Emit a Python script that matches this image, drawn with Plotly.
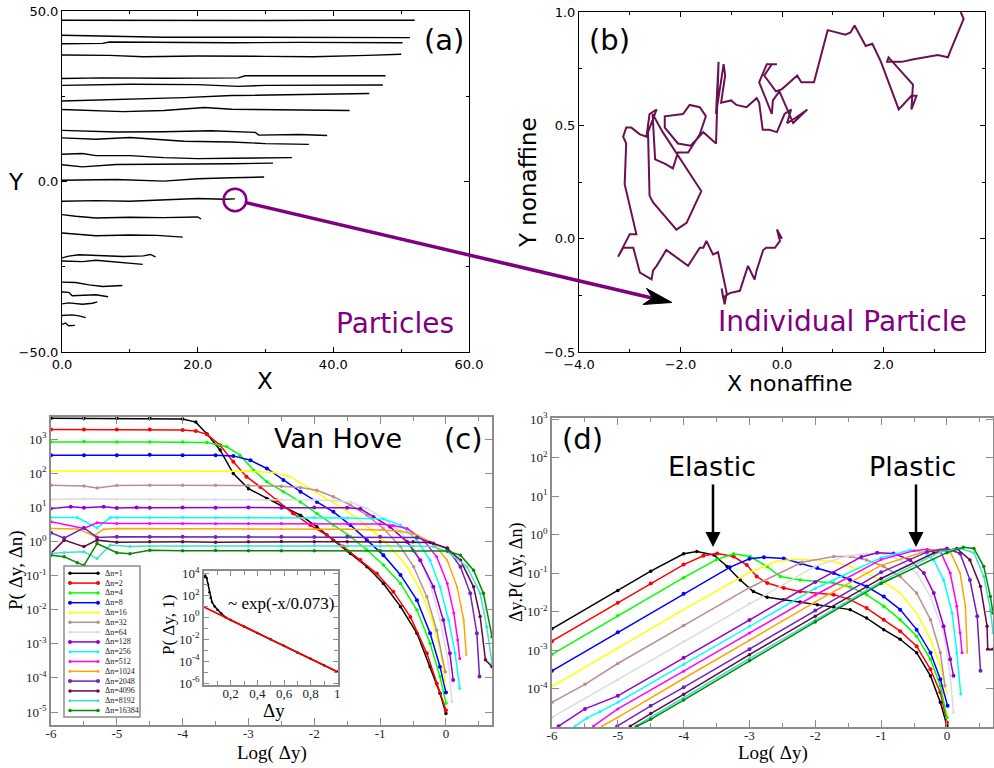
import plotly.graph_objects as go

W, H = 994, 768
def PX(x): return x / W
def PY(y): return 1 - y / H

# ---------------- Panel (a): particle tracks ----------------
track_x = [
    [0, 10, 20, 30, 40, 52.0],
    [0, 8, 15, 25, 35, 45, 51.3],
    [0, 6, 7, 15, 25, 35, 45, 50.2],
    [0, 7, 12, 20, 30, 37, 45, 50.0],
    [0, 6, 15, 26, 27, 35, 47.7],
    [0, 10, 20, 26, 30, 40, 47.3],
    [0, 8, 15, 18, 25, 35, 45.3],
    [0, 5, 9, 15, 21, 25, 35, 42.4],
    [0, 5, 8, 15, 22, 28.5, 29, 35, 39.1],
    [0, 5, 10, 15, 18, 25, 30, 36.4],
    [0, 3, 5, 10, 15, 20, 25, 33.9],
    [0, 3, 8, 15, 20, 25, 31.1],
    [0, 3, 8, 15, 20, 25, 29.8],
    [0, 5, 10, 15, 20, 24, 25.5],
    [0, 2, 5, 10, 15, 20, 20.5],
    [0, 3, 5, 10, 14, 17.8],
    [0, 1, 2.5, 6, 9, 12, 13, 13.8],
    [0, 3, 5, 8, 11.9],
    [0, 2, 4, 6, 8.9],
    [0, 1, 1.5, 3, 5, 6.8],
    [0, 1, 3, 4.5, 5.2],
    [0, 1.5, 2.5, 3.5],
    [0, 0.5, 1.0, 1.9],
]
track_y = [
    [47.3, 47.2, 47.3, 47.2, 47.3, 47.3],
    [42.9, 42.6, 42.3, 42.3, 42.2, 42.3, 42.2],
    [40.4, 40.5, 40.9, 40.8, 40.7, 40.8, 40.8, 40.7],
    [37.1, 37.0, 36.6, 36.8, 36.7, 36.6, 37.0, 37.3],
    [30.2, 30.4, 30.3, 30.4, 31.0, 31.0, 31.0],
    [28.2, 28.5, 28.4, 27.9, 28.2, 28.3, 28.3],
    [23.6, 24.0, 24.3, 24.6, 25.2, 25.6, 25.8],
    [21.1, 20.8, 20.5, 20.8, 21.7, 21.2, 21.0, 20.8],
    [15.0, 14.8, 14.5, 14.6, 14.9, 14.4, 13.6, 13.8, 13.5],
    [12.8, 12.4, 12.9, 12.2, 11.8, 11.6, 11.1, 10.9],
    [8.0, 8.2, 7.6, 7.6, 7.0, 6.7, 6.8, 7.0],
    [4.9, 4.3, 5.0, 5.1, 5.0, 5.2, 5.4],
    [0.35, 0.5, 0.6, 0.1, 0.8, 1.1, 1.3],
    [-5.8, -5.6, -5.8, -5.3, -5.0, -5.2, -5.1],
    [-9.7, -10.2, -10.7, -10.5, -10.6, -10.4, -11.0],
    [-15.1, -15.5, -15.9, -15.7, -15.8, -16.3],
    [-22.4, -21.9, -21.5, -21.8, -22.0, -21.8, -21.4, -22.1],
    [-23.3, -23.5, -23.1, -23.6, -24.3],
    [-29.5, -29.6, -30.3, -30.8, -30.5],
    [-32.4, -32.5, -33.5, -33.4, -33.2, -33.8],
    [-35.9, -35.6, -36.0, -35.7, -35.3],
    [-39.3, -39.1, -39.4, -39.9],
    [-41.9, -41.5, -42.3, -42.2],
]
highlight_x, highlight_y = 25.5, -5.4

# ---------------- Panel (b): single particle path ----------------
traj_xy = [
    (0.0, 0.0), (-0.1, 0.04), (-0.04, -0.01), (-0.14, -0.04), (-0.31, -0.04), (-0.37, -0.05),
    (-0.50, -0.14), (-0.54, -0.18), (-0.67, -0.12), (-0.83, -0.23), (-1.03, -0.24), (-1.16, -0.26),
    (-1.19, -0.22), (-1.13, -0.29), (-1.09, -0.24), (-1.26, -0.06), (-1.36, -0.07), (-1.49, -0.01),
    (-1.55, -0.04), (-1.62, -0.04), (-1.85, -0.12), (-2.28, -0.05), (-2.47, -0.12), (-2.54, -0.14),
    (-2.57, -0.18), (-2.80, -0.15), (-2.93, -0.04), (-3.13, -0.04), (-3.23, -0.08), (-3.00, 0.02),
    (-2.87, 0.02), (-3.10, 0.24), (-3.07, 0.42), (-3.13, 0.45), (-3.07, 0.49), (-2.97, 0.49),
    (-2.80, 0.46), (-2.67, 0.45), (-2.61, 0.55), (-2.47, 0.57), (-2.64, 0.47), (-2.61, 0.19),
    (-2.54, 0.16), (-2.08, 0.04), (-1.88, 0.07), (-1.59, 0.21), (-1.65, 0.23), (-2.08, 0.38),
    (-2.15, 0.40), (-2.35, 0.47), (-2.55, 0.55), (-2.50, 0.35), (-2.30, 0.33), (-2.15, 0.31),
    (-2.05, 0.38), (-1.85, 0.38), (-1.62, 0.46), (-1.50, 0.54), (-1.62, 0.58), (-1.82, 0.59),
    (-1.95, 0.55), (-2.31, 0.54), (-2.31, 0.49), (-2.05, 0.42), (-1.80, 0.41), (-1.55, 0.47),
    (-1.35, 0.43), (-1.30, 0.42), (-1.25, 0.78), (-1.30, 0.55), (-1.15, 0.77), (-1.12, 0.72),
    (-1.20, 0.60), (-1.00, 0.61), (-0.90, 0.59), (-0.70, 0.58), (-0.50, 0.62), (-0.45, 0.60),
    (-0.38, 0.48), (-0.25, 0.48), (-0.10, 0.47), (0.05, 0.55), (0.18, 0.57), (0.10, 0.51),
    (0.25, 0.53), (0.50, 0.57), (0.45, 0.56), (0.22, 0.51), (0.10, 0.57), (-0.05, 0.65),
    (-0.18, 0.61), (-0.20, 0.55), (-0.45, 0.69), (-0.30, 0.77), (-0.10, 0.77), (-0.20, 0.77),
    (-0.35, 0.72), (-0.12, 0.65), (0.00, 0.66), (0.30, 0.72), (0.38, 0.69), (0.63, 0.69),
    (0.90, 0.92), (1.25, 0.90), (1.35, 0.91), (1.43, 0.94), (1.65, 0.85), (1.78, 0.86),
    (1.95, 0.78), (2.20, 0.63), (2.30, 0.57), (2.55, 0.63), (2.65, 0.63), (2.55, 0.57),
    (2.58, 0.68), (2.10, 0.80), (2.07, 0.78), (2.36, 0.78), (2.57, 0.79), (3.07, 0.81),
    (3.27, 0.80), (3.32, 0.83), (3.55, 0.95), (3.58, 0.97), (3.52, 1.0),
]

# ---------------- Series labels / colours (panels c, d) ----------------
dn_labels = ["Δn=1", "Δn=2", "Δn=4", "Δn=8", "Δn=16", "Δn=32", "Δn=64", "Δn=128",
             "Δn=256", "Δn=512", "Δn=1024", "Δn=2048", "Δn=4096", "Δn=8192", "Δn=16384"]
dn_colors = ["#000000", "#ff0000", "#00ff00", "#0000ff", "#ffff00", "#bc8f8f", "#dcdcdc", "#9400d3",
             "#00ffff", "#ff00ff", "#ffa500", "#7221bc", "#670748", "#40e0d0", "#008b00"]
dn_msize = [3.5, 4, 3.5, 4, 2, 3.5, 3, 4, 3, 3, 2, 4, 3.5, 3, 3.5]

# ---------------- Panel (c): Van Hove, log10 P(Δy, Δn) vs log10 Δy ----------------
c1_x = [-6, -5.5, -5, -4.5, -4.0, -3.8, -3.63, -3.43, -3.23, -3.0, -2.72, -2.47, -2.21, -1.96, -1.71, -1.45, -1.2, -0.95, -0.69, -0.44, -0.24, -0.09, 0.0]
c1_y = [3.61, 3.61, 3.61, 3.61, 3.59, 3.5, 3.15, 2.68, 1.99, 1.55, 1.26, 1.02, 0.77, 0.43, 0.04, -0.35, -0.74, -1.23, -1.91, -2.69, -3.67, -4.45, -5.04]
c2_x = [-6, -5.5, -5, -4.5, -4.0, -3.8, -3.63, -3.43, -3.23, -3.03, -2.82, -2.57, -2.32, -2.06, -1.81, -1.56, -1.30, -1.05, -0.80, -0.54, -0.29, -0.14, 0.0]
c2_y = [3.28, 3.28, 3.28, 3.28, 3.27, 3.24, 3.14, 2.82, 2.34, 1.90, 1.60, 1.21, 0.82, 0.48, 0.19, -0.15, -0.54, -0.94, -1.47, -2.21, -3.28, -4.16, -4.95]
c4_x = [-6, -5.5, -5, -4.5, -4, -3.63, -3.33, -3.13, -2.92, -2.72, -2.47, -2.21, -1.96, -1.71, -1.45, -1.20, -0.95, -0.69, -0.44, -0.24, -0.09, 0.0]
c4_y = [2.92, 2.93, 2.92, 2.92, 2.92, 2.90, 2.78, 2.53, 2.09, 1.75, 1.46, 1.16, 0.82, 0.48, 0.14, -0.25, -0.69, -1.23, -2.01, -2.99, -3.96, -4.74]
c8_x = [-6, -5.5, -5, -4.5, -4, -3.5, -3.23, -2.97, -2.72, -2.47, -2.21, -1.96, -1.71, -1.45, -1.20, -0.95, -0.69, -0.44, -0.24, -0.09, 0.0]
c8_y = [2.53, 2.53, 2.53, 2.54, 2.53, 2.53, 2.51, 2.38, 2.14, 1.80, 1.46, 1.16, 0.87, 0.48, 0.04, -0.40, -0.98, -1.72, -2.69, -3.67, -4.43]
c16_x = [-6, -5.5, -5, -4.5, -4, -3.5, -3, -2.62, -2.37, -2.11, -1.86, -1.61, -1.35, -1.10, -0.85, -0.59, -0.39, -0.21, -0.09, -0.01]
c16_y = [2.07, 2.07, 2.07, 2.07, 2.07, 2.07, 2.06, 2.02, 1.90, 1.60, 1.31, 1.02, 0.68, 0.29, -0.15, -0.74, -1.42, -2.30, -3.18, -4.14]
c32_x = [-6, -5.5, -5.3, -5, -4.5, -4, -3.5, -3, -2.5, -2.21, -1.96, -1.71, -1.45, -1.20, -0.95, -0.69, -0.49, -0.29, -0.14, -0.01]
c32_y = [1.65, 1.63, 1.57, 1.64, 1.65, 1.65, 1.65, 1.64, 1.62, 1.58, 1.50, 1.31, 1.07, 0.77, 0.38, -0.15, -0.74, -1.62, -2.60, -3.82]
c64_x = [-6, -5.5, -5, -4.5, -4, -3.5, -3, -2.5, -2, -1.71, -1.45, -1.2, -0.95, -0.69, -0.44, -0.24, -0.09, 0.04, 0.09]
c64_y = [1.23, 1.25, 1.24, 1.24, 1.24, 1.24, 1.24, 1.23, 1.22, 1.20, 1.16, 0.97, 0.68, 0.29, -0.35, -1.23, -2.30, -3.57, -4.70]
c128_x = [-6, -5.7, -5.5, -5.2, -5, -4.7, -4.5, -4, -3.5, -3, -2.5, -2, -1.5, -1.30, -1.10, -0.85, -0.59, -0.39, -0.19, -0.04, 0.06, 0.11]
c128_y = [0.97, 1.02, 0.99, 1.02, 0.98, 1.0, 0.99, 1.0, 0.99, 1.0, 0.99, 1.0, 0.99, 0.96, 0.72, 0.43, -0.01, -0.55, -1.33, -2.30, -3.28, -4.06]
c256_x = [-6, -5.6, -5.3, -5.1, -5, -4.5, -4, -3.5, -3, -2.5, -2, -1.5, -0.95, -0.69, -0.44, -0.24, -0.09, 0.04, 0.14, 0.21]
c256_y = [0.70, 0.70, 0.40, 0.70, 0.70, 0.70, 0.71, 0.70, 0.70, 0.69, 0.70, 0.69, 0.66, 0.48, 0.04, -0.55, -1.33, -2.30, -3.28, -4.30]
c512_x = [-6, -5.5, -5.3, -5, -4.5, -4, -3.5, -3, -2.5, -2, -1.5, -1, -0.80, -0.59, -0.34, -0.14, 0.02, 0.12, 0.18, 0.21]
c512_y = [0.58, 0.38, 0.55, 0.53, 0.53, 0.53, 0.52, 0.53, 0.53, 0.52, 0.52, 0.51, 0.47, 0.38, 0.04, -0.45, -1.23, -2.10, -2.89, -3.43]
c1024_x = [-6, -5.6, -5.35, -5.2, -5, -4.5, -4, -3.5, -3, -2.5, -2, -1.5, -1, -0.69, -0.44, -0.19, 0.02, 0.17, 0.27, 0.31]
c1024_y = [0.38, 0.37, 0.17, 0.36, 0.38, 0.38, 0.37, 0.38, 0.38, 0.37, 0.37, 0.36, 0.34, 0.30, 0.19, -0.06, -0.55, -1.33, -2.30, -3.33]
c2048_x = [-6, -5.8, -5.5, -5.3, -5, -4.5, -4, -3.5, -3, -2.5, -2, -1.5, -1, -0.44, -0.19, 0.02, 0.22, 0.37, 0.47, 0.51]
c2048_y = [0.26, 0.10, 0.40, 0.12, 0.14, 0.14, 0.14, 0.13, 0.14, 0.14, 0.13, 0.14, 0.14, 0.12, -0.06, -0.20, -0.74, -1.52, -2.69, -3.96]
c4096_x = [-6, -5.8, -5.5, -5.3, -5, -4.5, -4, -3.5, -3, -2.5, -2, -1.5, -1, -0.5, -0.24, 0.02, 0.22, 0.42, 0.52, 0.60, 0.70]
c4096_y = [-0.35, 0.04, -0.15, 0.04, -0.02, -0.01, -0.01, -0.02, -0.01, 0.0, -0.01, -0.01, -0.01, -0.01, -0.03, -0.20, -0.55, -1.33, -2.20, -3.47, -3.67]
c8192_x = [-6, -5.8, -5.5, -5.3, -5.1, -4.8, -4.5, -4, -3.5, -3, -2.5, -2, -1.5, -1, -0.5, -0.19, 0.02, 0.32, 0.52, 0.62, 0.70]
c8192_y = [-0.35, -0.32, -0.30, -0.50, -0.10, -0.15, -0.13, -0.13, -0.14, -0.13, -0.13, -0.12, -0.13, -0.13, -0.13, -0.15, -0.30, -0.74, -1.52, -2.50, -3.57]
c16384_x = [-6, -5.8, -5.6, -5.5, -5.3, -5.0, -4.8, -4.5, -4, -3.5, -3, -2.5, -2, -1.5, -1, -0.5, 0.02, 0.22, 0.42, 0.57, 0.70]
c16384_y = [-0.40, -0.45, -0.62, -0.70, -0.06, -0.33, -0.36, -0.26, -0.27, -0.26, -0.27, -0.27, -0.27, -0.27, -0.27, -0.27, -0.28, -0.40, -0.84, -1.52, -2.79]

# ---------------- Inset: P(Δy,1) vs Δy (log10 values) ----------------
ins_x = [0.003, 0.01, 0.02, 0.03, 0.04, 0.05, 0.06, 0.08, 0.10, 0.13, 0.16, 0.2, 0.3, 0.4, 0.5, 0.6, 0.7, 0.8, 0.9, 1.0]
ins_y = [3.7, 3.8, 3.6, 3.0, 2.3, 1.8, 1.4, 1.0, 0.7, 0.35, 0.02, -0.25, -0.83, -1.42, -2.0, -2.6, -3.2, -3.79, -4.38, -4.97]
fit_x = [0.0, 1.0]
fit_y = [0.95, -4.97]

# ---------------- Panel (d): log10 Δy·P(Δy, Δn) ----------------
d1_x = [-6, -5, -4.5, -4.0, -3.8, -3.54, -3.34, -3.14, -2.94, -2.73, -2.48, -2.23, -1.97, -1.72, -1.47, -1.22, -0.96, -0.71, -0.46, -0.25, -0.10, 0.0]
d1_y = [-2.45, -1.45, -0.95, -0.50, -0.44, -0.53, -0.83, -1.18, -1.48, -1.63, -1.69, -1.75, -1.82, -1.88, -1.95, -2.17, -2.47, -2.72, -3.07, -3.67, -4.36, -4.96]
d2_x = [-6, -5, -4.5, -4.0, -3.7, -3.49, -3.24, -3.04, -2.89, -2.73, -2.48, -2.23, -1.72, -1.47, -1.22, -0.96, -0.71, -0.46, -0.25, -0.10, 0.0]
d2_y = [-2.77, -1.77, -1.27, -0.78, -0.55, -0.49, -0.57, -0.79, -1.09, -1.26, -1.39, -1.48, -1.56, -1.69, -1.91, -2.21, -2.51, -2.90, -3.50, -4.10, -4.88]
d4_x = [-6, -5, -4, -3.5, -3.24, -2.99, -2.73, -2.53, -2.23, -1.72, -1.47, -1.22, -0.96, -0.71, -0.46, -0.25, -0.10, 0.0]
d4_y = [-3.11, -2.11, -1.12, -0.65, -0.50, -0.57, -0.83, -1.09, -1.18, -1.26, -1.36, -1.56, -1.86, -2.21, -2.64, -3.24, -3.93, -4.75]
d8_x = [-6, -5, -4, -3.3, -3.0, -2.78, -2.48, -2.23, -1.97, -1.72, -1.47, -1.22, -0.96, -0.71, -0.46, -0.25, -0.10, 0.01]
d8_y = [-3.54, -2.54, -1.54, -0.85, -0.63, -0.59, -0.62, -0.75, -0.87, -1.0, -1.18, -1.35, -1.61, -1.95, -2.47, -3.07, -3.76, -4.45]
d16_x = [-6, -5, -4, -3, -2.6, -2.33, -1.97, -1.72, -1.47, -1.22, -0.96, -0.71, -0.46, -0.25, -0.10, 0.0]
d16_y = [-3.95, -2.95, -1.95, -0.98, -0.70, -0.64, -0.66, -0.70, -0.83, -1.0, -1.22, -1.52, -2.04, -2.72, -3.41, -4.14]
d32_x = [-6, -5.5, -5, -4, -3, -2.2, -1.72, -1.47, -1.22, -0.96, -0.71, -0.46, -0.25, -0.10, -0.03]
d32_y = [-4.36, -3.89, -3.35, -2.36, -1.38, -0.72, -0.57, -0.57, -0.66, -0.83, -1.09, -1.52, -2.21, -3.07, -3.93]
d64_x = [-6, -5, -4, -3, -2, -1.5, -1.22, -0.96, -0.71, -0.46, -0.25, -0.05, 0.05, 0.10]
d64_y = [-4.75, -3.77, -2.78, -1.79, -0.82, -0.55, -0.50, -0.50, -0.66, -1.0, -1.61, -2.55, -3.67, -4.62]
d128_x = [-5.9, -5.5, -5.0, -4, -3, -2, -1.3, -1.06, -0.81, -0.56, -0.35, -0.20, -0.05, 0.05, 0.10]
d128_y = [-4.98, -4.53, -4.19, -3.20, -2.22, -1.23, -0.58, -0.47, -0.49, -0.66, -1.0, -1.52, -2.38, -3.24, -3.67]
d256_x = [-5.65, -5.47, -5.27, -5.0, -4, -3, -2, -1, -0.56, -0.35, -0.20, -0.05, 0.08, 0.15, 0.21]
d256_y = [-4.98, -4.77, -4.60, -4.36, -3.37, -2.38, -1.40, -0.60, -0.40, -0.47, -0.66, -1.18, -2.04, -3.07, -4.14]
d512_x = [-5.37, -5.0, -4, -3, -2, -1, -0.5, -0.30, -0.10, 0.05, 0.15, 0.20, 0.23]
d512_y = [-4.98, -4.53, -3.55, -2.56, -1.57, -0.65, -0.42, -0.38, -0.43, -1.0, -1.86, -2.55, -3.07]
d1024_x = [-5.24, -5.0, -4, -3, -2, -1, -0.3, -0.10, 0.05, 0.20, 0.28, 0.31]
d1024_y = [-4.98, -4.75, -3.74, -2.74, -1.75, -0.80, -0.42, -0.38, -0.44, -1.0, -1.86, -3.07]
d2048_x = [-5.01, -4.5, -4, -3, -2, -1, -0.3, 0.0, 0.20, 0.35, 0.46, 0.51]
d2048_y = [-4.98, -4.45, -3.97, -2.98, -1.97, -0.98, -0.45, -0.36, -0.49, -1.18, -2.12, -3.54]
d4096_x = [-4.81, -4.5, -4, -3, -2, -1, -0.2, 0.15, 0.35, 0.51, 0.61, 0.62, 0.70]
d4096_y = [-4.98, -4.65, -4.15, -3.12, -2.12, -1.14, -0.48, -0.36, -0.66, -1.35, -2.38, -2.98, -2.98]
d8192_x = [-4.73, -4.5, -4, -3, -2, -1, -0.1, 0.20, 0.41, 0.56, 0.66, 0.70]
d8192_y = [-4.98, -4.74, -4.24, -3.22, -2.21, -1.22, -0.45, -0.36, -0.47, -1.09, -1.95, -2.55]
d16384_x = [-4.71, -4.5, -4, -3, -2, -1, 0, 0.25, 0.41, 0.56, 0.66, 0.70]
d16384_y = [-4.98, -4.80, -4.30, -3.28, -2.27, -1.27, -0.47, -0.33, -0.36, -0.83, -1.61, -2.04]

c_series = [(c1_x, c1_y), (c2_x, c2_y), (c4_x, c4_y), (c8_x, c8_y), (c16_x, c16_y), (c32_x, c32_y),
            (c64_x, c64_y), (c128_x, c128_y), (c256_x, c256_y), (c512_x, c512_y), (c1024_x, c1024_y),
            (c2048_x, c2048_y), (c4096_x, c4096_y), (c8192_x, c8192_y), (c16384_x, c16384_y)]
d_series = [(d1_x, d1_y), (d2_x, d2_y), (d4_x, d4_y), (d8_x, d8_y), (d16_x, d16_y), (d32_x, d32_y),
            (d64_x, d64_y), (d128_x, d128_y), (d256_x, d256_y), (d512_x, d512_y), (d1024_x, d1024_y),
            (d2048_x, d2048_y), (d4096_x, d4096_y), (d8192_x, d8192_y), (d16384_x, d16384_y)]

# ====================== figure ======================
SANS = "DejaVu Sans"
SERIF = "Liberation Serif"
PURPLE = "#800080"
GREY = "#8c8c8c"

fig = go.Figure()

for tx, ty in zip(track_x, track_y):
    fig.add_trace(go.Scatter(x=tx, y=ty, mode="lines", line=dict(color="black", width=1.4),
                             xaxis="x", yaxis="y", showlegend=False, hoverinfo="skip"))

fig.add_trace(go.Scatter(x=[p[0] for p in traj_xy], y=[p[1] for p in traj_xy], mode="lines",
                         line=dict(color="#6a1152", width=2), xaxis="x2", yaxis="y2",
                         showlegend=False, hoverinfo="skip"))

for i, (xs, ys) in enumerate(c_series):
    fig.add_trace(go.Scatter(x=xs, y=ys, mode="lines+markers",
                             line=dict(color=dn_colors[i], width=1.5),
                             marker=dict(size=dn_msize[i], color=dn_colors[i]),
                             xaxis="x3", yaxis="y3", showlegend=False, hoverinfo="skip"))

for i, (xs, ys) in enumerate(d_series):
    fig.add_trace(go.Scatter(x=xs, y=ys, mode="lines+markers",
                             line=dict(color=dn_colors[i], width=1.5),
                             marker=dict(size=dn_msize[i], color=dn_colors[i]),
                             xaxis="x4", yaxis="y4", showlegend=False, hoverinfo="skip"))

fig.add_trace(go.Scatter(x=ins_x, y=ins_y, mode="lines+markers", line=dict(color="black", width=1.5),
                         marker=dict(size=2.5, color="black"), xaxis="x5", yaxis="y5",
                         showlegend=False, hoverinfo="skip"))
fig.add_trace(go.Scatter(x=fit_x, y=fit_y, mode="lines", line=dict(color="red", width=1.6),
                         xaxis="x5", yaxis="y5", showlegend=False, hoverinfo="skip"))

# hand-made legend for panel (c) (pixel-based auxiliary axes)
LEG_L, LEG_R, LEG_T, LEG_B = 64, 140, 566, 717
leg_top, leg_step = 573.3, 9.8
annotations = []
for i, lab in enumerate(dn_labels):
    yy = leg_top + i * leg_step
    fig.add_trace(go.Scatter(x=[70, 98], y=[yy, yy], mode="lines+markers",
                             line=dict(color=dn_colors[i], width=1.5),
                             marker=dict(size=max(dn_msize[i], 3), color=dn_colors[i]),
                             xaxis="x6", yaxis="y6", showlegend=False, hoverinfo="skip"))
    annotations.append(dict(text=lab, x=103, y=yy, xref="x6", yref="y6", xanchor="left",
                            yanchor="middle", showarrow=False,
                            font=dict(family=SERIF, size=8, color="#222")))

def ab_axis(domain, rng, dtick, minor_dtick, anchor):
    return dict(domain=domain, range=rng, anchor=anchor, tick0=rng[0], dtick=dtick,
                tickformat=".1f", showline=True, linecolor="black", linewidth=1,
                mirror="allticks", ticks="inside", ticklen=5, tickcolor="black",
                showgrid=False, zeroline=False, automargin=False,
                tickfont=dict(family=SANS, size=13, color="black"),
                minor=dict(dtick=minor_dtick, tick0=rng[0], ticks="inside", ticklen=3,
                           tickcolor="black", showgrid=False))

def cd_axis(domain, rng, tickvals, ticktext, anchor, minor_dtick=None, fsize=13):
    ax = dict(domain=domain, range=rng, anchor=anchor, tickmode="array", tickvals=tickvals,
              ticktext=ticktext, showline=True, linecolor=GREY, linewidth=1.5,
              mirror="allticks", ticks="inside", ticklen=7, tickcolor=GREY, tickwidth=1.3,
              showgrid=False, zeroline=False, automargin=False,
              tickfont=dict(family=SERIF, size=fsize, color="#222"))
    if minor_dtick:
        ax["minor"] = dict(tickmode="linear", dtick=minor_dtick, tick0=0, ticks="inside",
                           ticklen=4, tickcolor=GREY, showgrid=False)
    return ax

xt_vals = [-6, -5, -4, -3, -2, -1, 0]
xt_text = ["-6", "-5", "-4", "-3", "-2", "-1", "0"]
yc_vals = [-5, -4, -3, -2, -1, 0, 1, 2, 3]
yc_text = ["10<sup>%d</sup>" % v for v in yc_vals]
yd_vals = [-4, -3, -2, -1, 0, 1, 2, 3]
yd_text = ["10<sup>%d</sup>" % v for v in yd_vals]
yi_vals = [-6, -4, -2, 0, 2, 4]
yi_text = ["10<sup>%d</sup>" % v for v in yi_vals]

layout = dict(
    width=W, height=H, margin=dict(l=0, r=0, t=0, b=0),
    paper_bgcolor="white", plot_bgcolor="white", showlegend=False,
    xaxis=ab_axis([PX(62), PX(469)], [0, 60], 20, 10, "y"),
    yaxis=ab_axis([PY(352), PY(11)], [-50, 50], 50, 25, "x"),
    xaxis2=ab_axis([PX(579), PX(985)], [-4, 4], 2, 1, "y2"),
    yaxis2=ab_axis([PY(352), PY(12)], [-0.5, 1.0], 0.5, 0.25, "x2"),
    xaxis3=cd_axis([PX(51), PX(492)], [-6, 0.7], xt_vals, xt_text, "y3", 0.5),
    yaxis3=cd_axis([PY(725), PY(417)], [-5.38, 3.65], yc_vals, yc_text, "x3"),
    xaxis4=cd_axis([PX(552), PX(993)], [-6, 0.7], xt_vals, xt_text, "y4", 0.5),
    yaxis4=cd_axis([PY(727), PY(418)], [-5.0, 3.03], yd_vals, yd_text, "x4"),
    xaxis5=cd_axis([PX(204), PX(338)], [0, 1.005], [0.2, 0.4, 0.6, 0.8, 1.0],
                   ["0,2", "0,4", "0,6", "0,8", "1"], "y5", 0.1, 13),
    yaxis5=cd_axis([PY(685), PY(571)], [-6.18, 4.24], yi_vals, yi_text, "x5", 1, 13),
    xaxis6=dict(domain=[PX(LEG_L), PX(LEG_R)], range=[LEG_L, LEG_R], visible=False, anchor="y6"),
    yaxis6=dict(domain=[PY(LEG_B), PY(LEG_T)], range=[LEG_B, LEG_T], visible=False, anchor="x6"),
)
layout["xaxis5"]["ticklen"] = 5
layout["yaxis5"]["ticklen"] = 5
for k in ("xaxis3", "xaxis4"):
    layout[k]["ticklabelstandoff"] = -4
layout["xaxis5"]["ticklabelstandoff"] = -4

def txt(t, x, y, size, family=SANS, color="black", angle=0):
    annotations.append(dict(text=t, x=PX(x), y=PY(y), xref="paper", yref="paper",
                            xanchor="center", yanchor="middle", showarrow=False,
                            textangle=angle, font=dict(family=family, size=size, color=color)))

# panel (a), (b) texts
txt("Y", 16, 182, 23)
txt("X", 265, 381, 23)
txt("(a)", 444, 40, 29)
txt("Particles", 395, 323, 28, color=PURPLE)
txt("Y nonaffine", 528, 183, 23, angle=-90)
txt("X nonaffine", 790, 383, 22)
txt("(b)", 609, 40, 29)
txt("Individual Particle", 842, 322, 28, color=PURPLE)
# panel (c)
txt("P( Δy, Δn)", 16, 570, 19, family=SERIF, angle=-90)
txt("Log( Δy)", 272, 753, 19, family=SERIF)
txt("Van Hove", 338, 438, 27)
txt("(c)", 463, 439, 29)
txt("P( Δy, 1)", 168, 625, 17, family=SERIF, angle=-90)
txt("Δy", 274, 710, 19, family=SERIF)
txt("~ exp(-x/0.073)", 281, 603, 17, family=SERIF)
# panel (d)
txt("Δy.P( Δy, Δn)", 516, 573, 18, family=SERIF, angle=-90)
txt("Log( Δy)", 773, 753, 19, family=SERIF)
txt("(d)", 582, 439, 29)
txt("Elastic", 712, 466, 27)
txt("Plastic", 912, 466, 27)

for xa in (713, 916):
    annotations.append(dict(text="", x=PX(xa), y=PY(547), xref="paper", yref="paper",
                            ax=0, ay=-64, showarrow=True, arrowhead=2, arrowsize=1.2,
                            arrowwidth=2.5, arrowcolor="black"))

layout["annotations"] = annotations

# highlight circle, connecting arrow and arrowhead
rx, ry = 1.67, 3.31
shapes = [
    dict(type="circle", xref="x", yref="y", x0=highlight_x - rx, x1=highlight_x + rx,
         y0=highlight_y - ry, y1=highlight_y + ry, line=dict(color=PURPLE, width=2.5)),
    dict(type="line", xref="paper", yref="paper", x0=PX(246), y0=PY(202.6), x1=PX(652), y1=PY(298),
         line=dict(color=PURPLE, width=3.5)),
    dict(type="path", xref="paper", yref="paper",
         path="M %f,%f L %f,%f L %f,%f L %f,%f Z" % (PX(672), PY(302.5), PX(646.5), PY(288.4),
                                                   PX(652.5), PY(298), PX(642.9), PY(304.5)),
         fillcolor="black", line=dict(color="black", width=1)),
    dict(type="rect", xref="paper", yref="paper", x0=PX(LEG_L), x1=PX(LEG_R), y0=PY(LEG_B), y1=PY(LEG_T),
         line=dict(color=GREY, width=1.5), fillcolor="rgba(0,0,0,0)"),
]
layout["shapes"] = shapes

fig.update_layout(**layout)
fig.write_html("out.html", config={"displayModeBar": False},
               post_script="document.body.style.margin='0';document.body.style.overflow='hidden';")
